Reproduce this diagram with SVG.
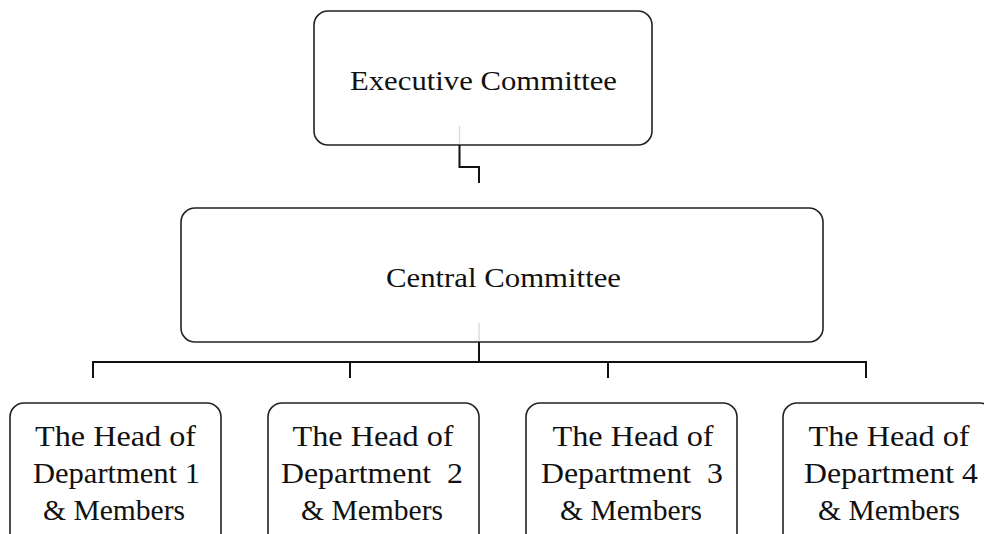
<svg xmlns="http://www.w3.org/2000/svg" width="984" height="534" viewBox="0 0 984 534">
<style>
.box{fill:#fff;stroke:#222;stroke-width:1.6}
.lbl{font-family:"Liberation Serif","Times New Roman",serif;fill:#111;text-anchor:middle;white-space:pre}
.big{font-size:28px}
.dep{font-size:29px}
.conn{fill:none;stroke:#111;stroke-width:2}
.ghost{fill:none;stroke:#ddd;stroke-width:1.5}
</style>
<rect width="984" height="534" fill="#fff"/>
<g id="exec">
<rect class="box" x="314" y="11" width="338" height="134" rx="14"/>
<text class="lbl big" x="483.5" y="90" textLength="267" lengthAdjust="spacingAndGlyphs">Executive Committee</text>
</g>
<g id="central">
<rect class="box" x="181" y="208" width="642" height="134" rx="14"/>
<text class="lbl big" x="503.5" y="287" textLength="235" lengthAdjust="spacingAndGlyphs">Central Committee</text>
</g>
<g id="dept1">
<rect class="box" x="10" y="403" width="211" height="150" rx="14"/>
<text class="lbl dep" x="115.5" y="446" textLength="161" lengthAdjust="spacingAndGlyphs">The Head of</text>
<text class="lbl dep" x="116.5" y="483" textLength="167" lengthAdjust="spacingAndGlyphs">Department 1</text>
<text class="lbl dep" x="114" y="520" textLength="142" lengthAdjust="spacingAndGlyphs">&amp; Members</text>
</g>
<g id="dept2">
<rect class="box" x="268" y="403" width="211" height="150" rx="14"/>
<text class="lbl dep" x="373" y="446" textLength="161" lengthAdjust="spacingAndGlyphs">The Head of</text>
<text class="lbl dep" x="372" y="483" textLength="182" lengthAdjust="spacingAndGlyphs">Department  2</text>
<text class="lbl dep" x="372" y="520" textLength="142" lengthAdjust="spacingAndGlyphs">&amp; Members</text>
</g>
<g id="dept3">
<rect class="box" x="526" y="403" width="211" height="150" rx="14"/>
<text class="lbl dep" x="633" y="446" textLength="161" lengthAdjust="spacingAndGlyphs">The Head of</text>
<text class="lbl dep" x="632" y="483" textLength="182" lengthAdjust="spacingAndGlyphs">Department  3</text>
<text class="lbl dep" x="631" y="520" textLength="142" lengthAdjust="spacingAndGlyphs">&amp; Members</text>
</g>
<g id="dept4">
<rect class="box" x="783" y="403" width="211" height="150" rx="14"/>
<text class="lbl dep" x="889" y="446" textLength="161" lengthAdjust="spacingAndGlyphs">The Head of</text>
<text class="lbl dep" x="891" y="483" textLength="174" lengthAdjust="spacingAndGlyphs">Department 4</text>
<text class="lbl dep" x="889" y="520" textLength="142" lengthAdjust="spacingAndGlyphs">&amp; Members</text>
</g>
<g id="connectors">
<line class="ghost" x1="459.5" y1="126" x2="459.5" y2="144"/>
<polyline class="conn" points="459.5,145 459.5,167 479,167 479,183"/>
<line class="ghost" x1="479" y1="323" x2="479" y2="341"/>
<line class="conn" x1="479" y1="342" x2="479" y2="362"/>
<line class="conn" x1="92" y1="362" x2="867" y2="362"/>
<line class="conn" x1="93" y1="361" x2="93" y2="378"/>
<line class="conn" x1="350" y1="361" x2="350" y2="378"/>
<line class="conn" x1="608" y1="361" x2="608" y2="378"/>
<line class="conn" x1="866" y1="361" x2="866" y2="378"/>
</g>
</svg>
